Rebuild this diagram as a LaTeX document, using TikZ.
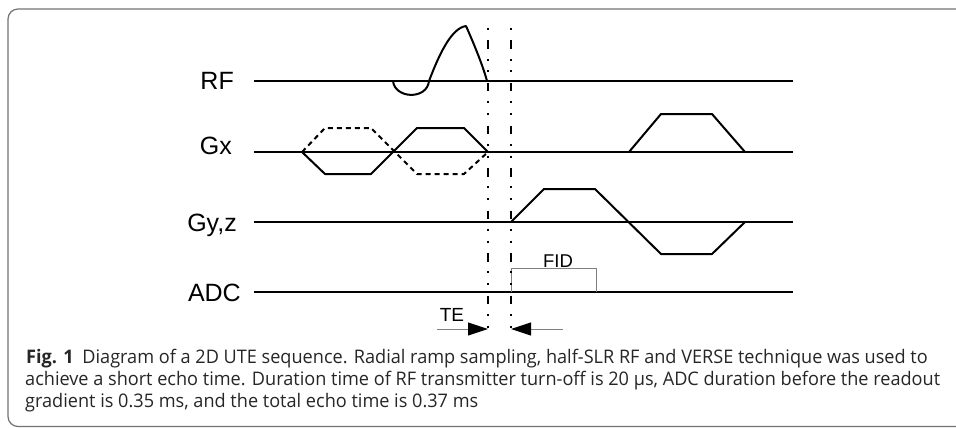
\documentclass[tikz,border=0pt]{standalone}
\usepackage{fontspec}
\setmainfont{Liberation Sans}
\newfontfamily\capfont{Open Sans}
\usetikzlibrary{arrows.meta}
\newlength\capw
\newcommand\capsize{\fontsize{18.7}{22}\selectfont}
\AtBeginDocument{\settowidth\capw{\capfont\capsize achieve a short echo time. Duration time of RF transmitter turn-off is 20 µs, ADC duration before the readout}%
  \pgfmathsetmacro\capfac{915/\capw}\global\let\capfac\capfac}
\begin{document}
\begin{tikzpicture}[x=1pt,y=-1pt,
  base/.style={line width=2.2pt},
  wave/.style={line width=2pt, line join=round},
  dwave/.style={wave, dash pattern=on 5pt off 4pt},
  marker/.style={line width=2.4pt, dash pattern=on 8.5pt off 9.8pt on 2pt off 9.7pt on 2pt off 10.5pt, dash phase=30pt},
  lab/.style={font=\fontsize{25}{25}\selectfont, anchor=base east, inner sep=0pt},
  small/.style={font=\fontsize{19}{19}\selectfont, anchor=base, inner sep=0pt},
  capline/.style={font=\capfont\capsize, anchor=base west, inner sep=0pt, text=black!85},
  thin/.style={line width=1pt, draw=black!50},
  tip/.style={-{Triangle[length=20pt,width=13pt,color=black,fill=black]}, line width=1pt, draw=black!50}
]
\useasboundingbox (0,0) rectangle (956,428);
% frame
\draw[black!55, line width=1.2pt, rounded corners=10pt] (8,9) rectangle (975,426.5);

% labels
\node[lab] (rf)  at (234,89)  {RF};
\node[lab] (gx)  at (232,154) {Gx};
\node[lab] (gy)  at (237,231) {Gy,z};
\node[lab] (adc) at (241,301) {ADC};

% baselines
\coordinate (rfL) at (254,81);  \coordinate (rfR) at (793,81);
\coordinate (gxL) at (254,152); \coordinate (gxR) at (793,152);
\coordinate (gyL) at (254,222); \coordinate (gyR) at (793,222);
\coordinate (adL) at (254,292); \coordinate (adR) at (793,292);
\draw[base] (rfL) -- (rfR);
\draw[base] (gxL) -- (gxR);
\draw[base] (gyL) -- (gyR);
\draw[base] (adL) -- (adR);

% RF pulse
\draw[wave] (393,81) .. controls (395,99) and (427,100) .. (429,81)
  .. controls (440,52) and (452,28) .. (466,26)
  .. controls (474,44) and (483,66) .. (487,81);

% Gx prephasing / slice
\draw[wave] (302,152) -- (325,174) -- (371,174) -- (417,128) -- (464,128) -- (488,152);
\draw[dwave] (302,152) -- (325,128) -- (371,128) -- (417,174) -- (464,174) -- (488,152);
% Gx readout
\draw[wave] (629,152) -- (661,114) -- (712,114) -- (745,152);

% Gy,z
\draw[wave] (511,222) -- (544,189) -- (595,189) -- (661,254) -- (712,254) -- (745,222);

% ADC FID window
\draw[thin] (511,292) -- (511,268) -- (596,268) -- (596,292);
\node[small, font=\fontsize{18.5}{18.5}\selectfont] (fid) at (558,267) {FID};

% timing markers
\coordinate (m1t) at (488,28); \coordinate (m1b) at (488,328);
\coordinate (m2t) at (511,28); \coordinate (m2b) at (511,328);
\draw[marker] (m1t) -- (m1b);
\draw[marker] (m2t) -- (m2b);

% TE
\node[small] (te) at (452,321) {TE};
\coordinate (a1s) at (437,329); \coordinate (a1e) at (488,329);
\coordinate (a2s) at (563,329); \coordinate (a2e) at (511,329);
\draw[tip] (a1s) -- (a1e);
\draw[tip] (a2s) -- (a2e);

% caption
\node[capline] (c1) at (26,363) {\scalebox{\capfac}[1]{\textbf{Fig. 1}\hspace{9pt}Diagram of a 2D UTE sequence. Radial ramp sampling, half-SLR RF and VERSE technique was used to}};
\node[capline] (c2) at (25,385) {\scalebox{\capfac}[1]{achieve a short echo time. Duration time of RF transmitter turn-off is 20 µs, ADC duration before the readout}};
\node[capline] (c3) at (25,407) {\scalebox{\capfac}[1]{gradient is 0.35 ms, and the total echo time is 0.37 ms}};
\end{tikzpicture}
\end{document}
